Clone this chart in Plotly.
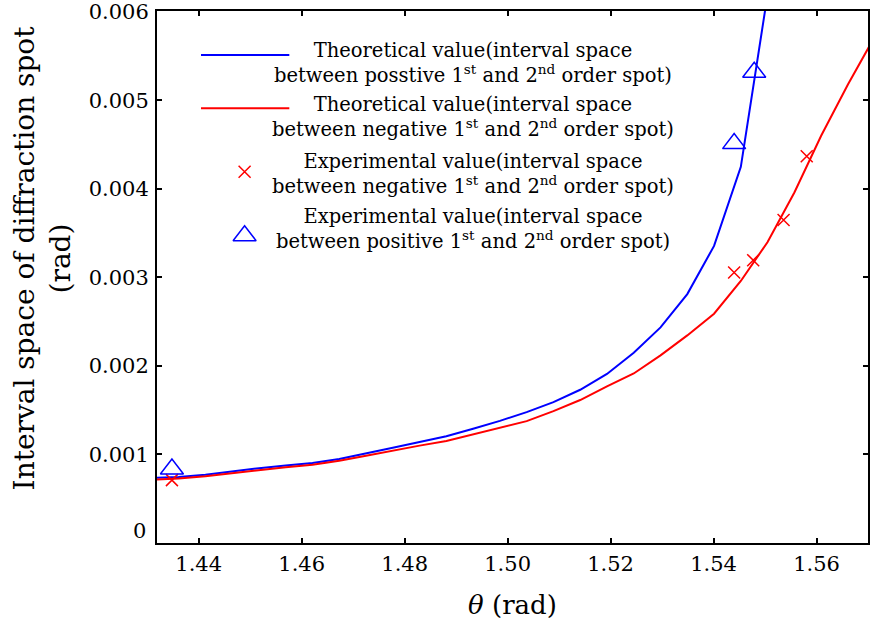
import plotly.graph_objects as go

# ---------------- data ----------------
theta = [1.4309, 1.4361, 1.4413, 1.4465, 1.4517, 1.4569, 1.4621, 1.4673, 1.4725,
         1.4777, 1.4829, 1.4881, 1.4933, 1.4985, 1.5037, 1.5089, 1.5141, 1.5193,
         1.5245, 1.5297, 1.5349, 1.5401, 1.5453, 1.5505, 1.5557, 1.5609, 1.5661,
         1.5713]
theo_pos = [0.000735, 0.000745, 0.000770, 0.000810, 0.000845, 0.000875, 0.000905,
            0.000950, 0.001010, 0.001075, 0.001140, 0.001205, 0.001290, 0.001380,
            0.001479, 0.001591, 0.001731, 0.001910, 0.002150, 0.002436, 0.002812,
            0.003356, 0.004250, 0.006200, None, None, None, None]
theo_neg = [0.000715, 0.000730, 0.000755, 0.000790, 0.000825, 0.000855, 0.000885,
            0.000930, 0.000985, 0.001045, 0.001100, 0.001152, 0.001225, 0.001300,
            0.001377, 0.001490, 0.001615, 0.001770, 0.001915, 0.002120, 0.002345,
            0.002590, 0.002960, 0.003400, 0.003960, 0.004600, 0.005180, 0.005720]

exp_neg_theta = [1.4348, 1.5440, 1.5477, 1.5536, 1.5581]
exp_neg = [0.000710, 0.003056, 0.003195, 0.003649, 0.004370]

exp_pos_theta = [1.4348, 1.5440, 1.5479]
exp_pos = [0.000836, 0.004512, 0.005318]

x_ticks = [1.44, 1.46, 1.48, 1.50, 1.52, 1.54, 1.56]
y_ticks = [0, 0.001, 0.002, 0.003, 0.004, 0.005, 0.006]
y_ticktext = ["", "0.001", "0.002", "0.003", "0.004", "0.005", "0.006"]

legend_text = [
    "Theoretical value(interval space<br>between posstive 1<sup>st</sup> and 2<sup>nd</sup> order spot)",
    "Theoretical value(interval space<br>between negative 1<sup>st</sup> and 2<sup>nd</sup> order spot)",
    "Experimental value(interval space<br>between negative 1<sup>st</sup> and 2<sup>nd</sup> order spot)",
    "Experimental value(interval space<br>between positive 1<sup>st</sup> and 2<sup>nd</sup> order spot)",
]
y_title = "Interval space of diffraction spot<br>(rad)"
x_title = "<i>θ</i> (rad)"

BLUE = "#0000ff"
RED = "#ff0000"
FONT = "DejaVu Serif"

fig = go.Figure()

fig.add_trace(go.Scatter(x=theta, y=theo_pos, mode="lines",
                         line=dict(color=BLUE, width=2), connectgaps=False,
                         showlegend=False, cliponaxis=True))
fig.add_trace(go.Scatter(x=theta, y=theo_neg, mode="lines",
                         line=dict(color=RED, width=2),
                         showlegend=False, cliponaxis=True))
fig.add_trace(go.Scatter(x=exp_neg_theta, y=exp_neg, mode="markers",
                         marker=dict(symbol="x-thin-open", size=12, color=RED,
                                     line=dict(color=RED, width=1.5)),
                         showlegend=False, cliponaxis=False))
fig.add_trace(go.Scatter(x=exp_pos_theta, y=exp_pos, mode="markers",
                         marker=dict(symbol="triangle-up-open", size=20, color=BLUE,
                                     line=dict(color=BLUE, width=1.5)),
                         showlegend=False, cliponaxis=False))

# ---- hand-made legend (samples on an overlay axis in 0..1 units) ----
line_x0, line_x1 = 0.0619, 0.1861
sym_x = 0.1232
fig.add_trace(go.Scatter(x=[line_x0, line_x1], y=[0.9173, 0.9173], mode="lines",
                         line=dict(color=BLUE, width=2), xaxis="x2", yaxis="y2",
                         showlegend=False, hoverinfo="skip"))
fig.add_trace(go.Scatter(x=[line_x0, line_x1], y=[0.8171, 0.8171], mode="lines",
                         line=dict(color=RED, width=2), xaxis="x2", yaxis="y2",
                         showlegend=False, hoverinfo="skip"))
fig.add_trace(go.Scatter(x=[sym_x], y=[0.6979], mode="markers",
                         marker=dict(symbol="x-thin-open", size=12, color=RED,
                                     line=dict(color=RED, width=1.5)),
                         xaxis="x2", yaxis="y2", showlegend=False, hoverinfo="skip"))
fig.add_trace(go.Scatter(x=[sym_x], y=[0.5776], mode="markers",
                         marker=dict(symbol="triangle-up-open", size=20, color=BLUE,
                                     line=dict(color=BLUE, width=1.5)),
                         xaxis="x2", yaxis="y2", showlegend=False, hoverinfo="skip"))

annotations = []
for txt, yy in zip(legend_text, [0.9023, 0.8008, 0.6936, 0.5902]):
    annotations.append(dict(text=txt, x=0.4447, y=yy, xref="paper", yref="paper",
                            xanchor="center", yanchor="middle", align="center",
                            showarrow=False, font=dict(family=FONT, size=19.5, color="black")))
# the "0" y tick label sits a little above the axis corner
annotations.append(dict(text="0", x=0, y=0, xref="paper", yref="paper",
                        xanchor="right", yanchor="middle", yshift=12, xshift=-9,
                        showarrow=False, font=dict(family=FONT, size=21, color="black")))
# y axis title
annotations.append(dict(text=y_title, x=0, y=0.535, xref="paper", yref="paper",
                        xanchor="center", yanchor="middle", align="center",
                        textangle=-90, xshift=-115, showarrow=False,
                        font=dict(family=FONT, size=28, color="black")))

axis_common = dict(showline=True, linecolor="black", linewidth=2, mirror="ticks",
                   ticks="inside", ticklen=5, tickwidth=1.5, tickcolor="black",
                   showgrid=False, zeroline=False, automargin=False,
                   tickfont=dict(family=FONT, size=21, color="black"))

fig.update_layout(
    width=871, height=621,
    margin=dict(l=157, r=3, t=11, b=78),
    paper_bgcolor="white", plot_bgcolor="white",
    xaxis=dict(range=[1.4319, 1.5700], tickvals=x_ticks, tickformat=".2f",
               ticklabelstandoff=1,
               title=dict(text=x_title, font=dict(family=FONT, size=26, color="black"),
                          standoff=21),
               **axis_common),
    yaxis=dict(range=[0, 0.00601], tickvals=y_ticks, ticktext=y_ticktext,
               ticklabelstandoff=2, **axis_common),
    xaxis2=dict(range=[0, 1], overlaying="x", visible=False, fixedrange=True),
    yaxis2=dict(range=[0, 1], overlaying="y", visible=False, fixedrange=True),
    annotations=annotations,
    showlegend=False,
)

fig.write_html(
    "out.html",
    config={"displayModeBar": False},
    post_script="document.body.style.margin='0';document.body.style.overflow='hidden';",
)
